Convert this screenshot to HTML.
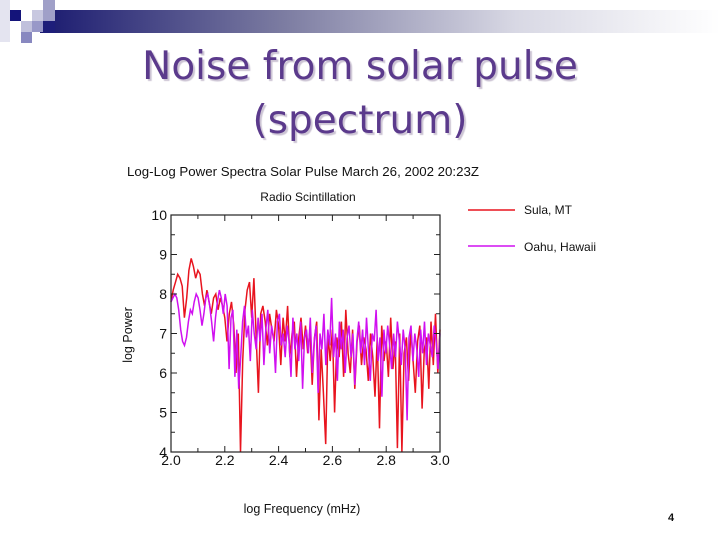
<!DOCTYPE html>
<html><head><meta charset="utf-8"><style>
body{margin:0;width:720px;height:540px;background:#fff;overflow:hidden;position:relative;font-family:"Liberation Sans",sans-serif}
.sq{position:absolute}
#title{position:absolute;left:0;top:40px;width:720px;text-align:center;font-family:"DejaVu Sans",sans-serif;font-size:39px;line-height:54px;color:#5b3a8c;text-shadow:2px 2px 1px #ccc4d4}
</style></head><body>
<div style="position:absolute;left:40px;top:10px;width:680px;height:23px;background:linear-gradient(to right,#1a1a70,#7a7aa0 35%,#d8d8e4 70%,#fff)"></div>
<div class="sq" style="left:0;top:0;width:10px;height:42px;background:#e4e4f0"></div>
<div class="sq" style="left:10px;top:10px;width:11px;height:11px;background:#14147a"></div>
<div class="sq" style="left:32px;top:10px;width:11px;height:11px;background:#c8c8e0"></div>
<div class="sq" style="left:43px;top:0;width:12px;height:21px;background:#a0a0c8"></div>
<div class="sq" style="left:43px;top:21px;width:12px;height:12px;background:#1e1e7a"></div>
<div class="sq" style="left:21px;top:21px;width:11px;height:11px;background:#c0c0dc"></div>
<div class="sq" style="left:32px;top:21px;width:11px;height:11px;background:#9898c8"></div>
<div class="sq" style="left:21px;top:32px;width:11px;height:11px;background:#8888c0"></div>
<div id="title">Noise from solar pulse<br>(spectrum)</div>
<svg id="chart" width="720" height="540" style="position:absolute;left:0;top:0" font-family="Liberation Sans, sans-serif">
<text x="127" y="176" font-size="12.5" fill="#111" textLength="352" lengthAdjust="spacingAndGlyphs">Log-Log Power Spectra Solar Pulse March 26, 2002 20:23Z</text>
<text x="308" y="201" font-size="12" fill="#111" text-anchor="middle">Radio Scintillation</text>
<text x="302" y="513" font-size="12.5" fill="#111" text-anchor="middle">log Frequency (mHz)</text>
<text x="0" y="0" font-size="12.5" fill="#111" text-anchor="middle" transform="translate(132,335) rotate(-90)">log Power</text>
<g id="plot"></g>
<line x1="468" y1="210" x2="515" y2="210" stroke="#e8141e" stroke-width="1.5"/>
<text x="524" y="214" font-size="12" fill="#111">Sula, MT</text>
<line x1="468" y1="246" x2="515" y2="246" stroke="#d010f0" stroke-width="1.5"/>
<text x="524" y="251" font-size="12" fill="#111">Oahu, Hawaii</text>
<text x="668" y="521" font-size="11" font-weight="bold" fill="#111">4</text>
</svg>
<script>
const xMin = 2.0, xMax = 3.0, yMin = 4, yMax = 10;
const xTickLabels = ["2.0","2.2","2.4","2.6","2.8","3.0"];
const yTickLabels = ["4","5","6","7","8","9","10"];
const sulaPower = [7.8,8.1,8.3,8.5,8.4,8.2,7.4,7.9,8.6,8.9,8.7,8.4,8.6,8.5,8.0,7.7,8.1,7.8,7.5,7.9,8.0,7.6,7.9,7.7,7.4,
6.8,7.5,7.8,7.2,6.0,7.0,4.0,6.3,7.6,8.1,8.3,7.4,8.4,6.9,5.5,7.5,7.7,7.3,6.7,7.5,7.1,6.8,7.6,7.2,
6.2,7.4,6.8,7.7,6.4,7.0,7.3,5.9,6.9,7.4,6.6,7.2,6.5,7.1,5.7,6.9,7.3,4.8,6.6,5.5,4.2,7.0,6.3,7.1,
5.0,6.9,6.4,7.3,5.9,7.6,6.5,6.0,7.1,5.6,6.8,7.2,6.2,6.9,6.6,5.8,7.0,6.4,5.4,6.9,4.6,7.2,6.3,6.8,
5.9,7.4,6.1,6.8,4.1,7.0,3.9,6.5,6.9,5.8,7.1,6.3,5.5,6.8,7.2,5.1,6.6,6.9,5.6,7.3,6.2,7.5,6.0,7.1];
const oahuPower = [7.8,7.9,8.0,7.9,7.6,7.1,6.8,6.7,6.9,7.3,7.6,7.5,7.8,8.0,7.9,7.6,7.2,7.5,7.9,8.0,7.7,7.3,6.8,7.4,7.8,8.1,7.9,7.5,8.0,7.7,
6.1,7.4,7.6,5.9,7.1,5.6,6.4,7.3,7.7,6.9,7.2,6.3,7.6,7.0,6.6,7.4,6.8,7.5,6.2,7.1,7.6,6.5,7.2,6.9,6.0,7.3,7.5,6.7,7.0,6.4,
7.2,6.8,5.9,7.4,6.6,7.0,6.3,7.3,5.6,6.9,7.1,6.5,7.4,6.0,6.8,7.2,5.5,7.0,6.6,7.5,6.2,7.1,6.7,7.9,6.4,7.0,5.8,7.3,6.6,7.1,
6.0,6.9,7.2,6.4,7.0,5.7,6.8,7.3,6.5,7.1,6.2,7.4,6.6,5.8,7.0,6.8,7.6,6.3,6.9,5.4,7.1,6.5,7.2,6.7,6.1,7.0,6.4,7.3,6.8,6.2,
7.1,6.6,4.8,6.9,7.2,6.3,7.0,6.6,5.9,7.1,6.5,7.3,6.2,7.0,6.7,6.4,7.2,6.8,6.1,7.0];
const L=171,R=440,T=215,B=452;
const sx=v=>L+(v-xMin)/(xMax-xMin)*(R-L);
const sy=v=>B-(v-yMin)/(yMax-yMin)*(B-T);
const NS="http://www.w3.org/2000/svg";
const g=document.getElementById('plot');
function mk(tag,attrs){const e=document.createElementNS(NS,tag);for(const k in attrs)e.setAttribute(k,attrs[k]);g.appendChild(e);return e;}
function series(vals,color,name){
  const pts=vals.map((v,i)=>sx(xMin+i/(vals.length-1)*(xMax-xMin)).toFixed(1)+','+sy(Math.max(v,yMin)).toFixed(1)).join(' ');
  const p=mk('polyline',{points:pts,fill:'none',stroke:color,'stroke-width':1.5});
  
  
}
series(sulaPower,'#e8141e','series-sula');
series(oahuPower,'#d010f0','series-oahu');
const frame=mk('rect',{x:L,y:T,width:R-L,height:B-T,fill:'none',stroke:'#222','stroke-width':1.2});


for(let i=0;i<=10;i++){
  const v=xMin+i*0.1, x=sx(v), len=i%2===0?6:4;
  mk('line',{x1:x,y1:B,x2:x,y2:B-len,stroke:'#222'});
  mk('line',{x1:x,y1:T,x2:x,y2:T+len,stroke:'#222'});
}
xTickLabels.forEach(s=>{
  const t=mk('text',{x:sx(parseFloat(s)),y:B+13,'font-size':14,'text-anchor':'middle',fill:'#111'});
  t.textContent=s;
  
  
});
for(let i=0;i<=12;i++){
  const v=yMin+i*0.5, y=sy(v), len=i%2===0?6:4;
  mk('line',{x1:L,y1:y,x2:L+len,y2:y,stroke:'#222'});
  mk('line',{x1:R,y1:y,x2:R-len,y2:y,stroke:'#222'});
}
yTickLabels.forEach(s=>{
  const t=mk('text',{x:L-4,y:sy(parseFloat(s))+5,'font-size':14,'text-anchor':'end',fill:'#111'});
  t.textContent=s;
  
  
});
</script>
</body></html>
